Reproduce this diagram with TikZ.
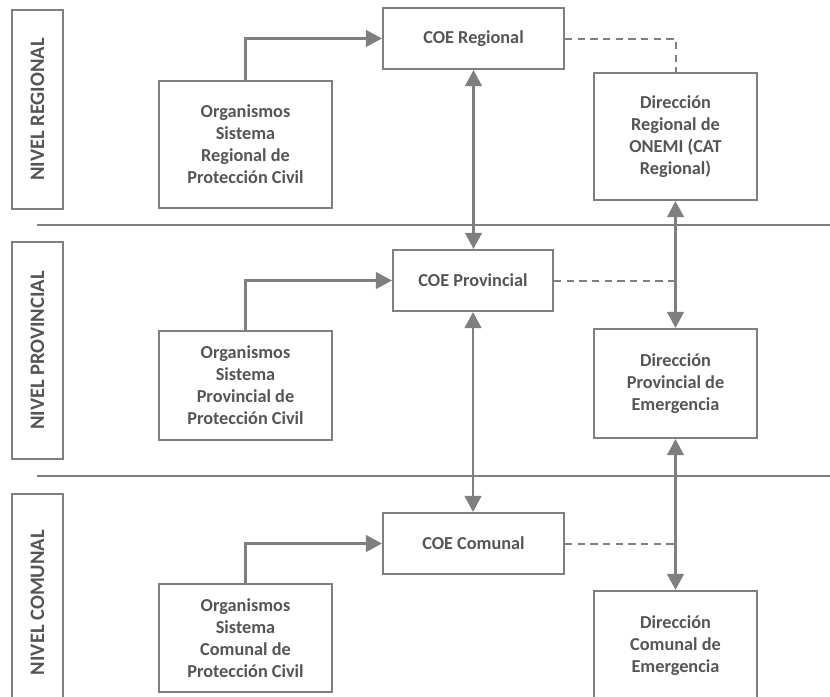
\documentclass[tikz,border=0pt]{standalone}
\usepackage{fontspec}
\setmainfont{Carlito}
\usetikzlibrary{arrows.meta}
\definecolor{linegray}{HTML}{7F7F7F}
\definecolor{textgray}{HTML}{555555}
\begin{document}
\begin{tikzpicture}[x=0.75pt,y=-0.75pt,
	box/.style={draw=linegray,line width=1.6pt,align=center,inner sep=0pt,text=textgray,
		font=\fontsize{13.7}{16.5}\selectfont\bfseries},
	levelbox/.style={draw=linegray,line width=1.6pt,rotate=90,inner sep=0pt,text=textgray,
		minimum height=38.25pt,font=\fontsize{15.4}{18}\selectfont\bfseries},
	link/.style={draw=linegray,line width=1.6pt,-{Triangle[width=12.5pt,length=12pt]}},
	twoway/.style={draw=linegray,line width=1.6pt,{Triangle[width=12.5pt,length=12pt]}-{Triangle[width=12.5pt,length=12pt]}},
	tie/.style={draw=linegray,line width=1.5pt,dash pattern=on 5.5pt off 4pt}]
	\useasboundingbox (0,0) rectangle (830,696);
	\clip (0,0) rectangle (830,696);
	\node[levelbox,minimum width=149.25pt] (nivreg) at (37.5,109.5) {NIVEL REGIONAL};
	\node[levelbox,minimum width=162.75pt] (nivprov) at (37.5,350.5) {NIVEL PROVINCIAL};
	\node[levelbox,minimum width=162.75pt] (nivcom) at (37.5,602.5) {NIVEL COMUNAL};
	\draw[linegray,line width=1.6pt] (37,225) -- (830,225);
	\draw[linegray,line width=1.6pt] (37,476) -- (830,476);
	\node[box,minimum width=135.75pt,minimum height=45.75pt] (coereg) at (473.5,38.5) {COE Regional};
	\node[box,minimum width=120pt,minimum height=45.75pt] (coeprov) at (473,280.5) {COE Provincial};
	\node[box,minimum width=135.75pt,minimum height=45.75pt] (coecom) at (473.5,543.5) {COE Comunal};
	\node[box,minimum width=129.75pt,minimum height=95.25pt] (orgreg) at (245.5,144.5) {Organismos\\Sistema\\Regional de\\Protección Civil};
	\node[box,minimum width=129.75pt,minimum height=81.75pt] (orgprov) at (245.5,385.5) {Organismos\\Sistema\\Provincial de\\Protección Civil};
	\node[box,minimum width=129.75pt,minimum height=81pt] (orgcom) at (245.5,638) {Organismos\\Sistema\\Comunal de\\Protección Civil};
	\node[box,minimum width=122.25pt,minimum height=95.25pt] (dirreg) at (675.5,136.5) {Dirección\\Regional de\\ONEMI (CAT\\Regional)};
	\node[box,minimum width=122.25pt,minimum height=81.75pt] (dirprov) at (675.5,383.5) {Dirección\\Provincial de\\Emergencia};
	\node[box,minimum width=122.25pt,minimum height=81.75pt] (dircom) at (675.5,645.5) {Dirección\\Comunal de\\Emergencia};
	\draw[link] (orgreg.north) |- (coereg.west);
	\draw[link] (orgprov.north) |- (coeprov.west);
	\draw[link] (orgcom.north) |- (coecom.west);
	\draw[twoway] (coereg.south) -- (coereg.south |- coeprov.north);
	\draw[twoway] (coeprov.south) -- (coeprov.south |- coecom.north);
	\draw[twoway] (dirreg.south) -- (dirprov.north);
	\draw[twoway] (dirprov.south) -- (dircom.north);
	\draw[tie] (coereg.east) -| (dirreg.north);
	\draw[tie] (coeprov.east) -- (coeprov.east -| dirprov.north);
	\draw[tie] (coecom.east) -- (coecom.east -| dircom.north);
\end{tikzpicture}
\end{document}
